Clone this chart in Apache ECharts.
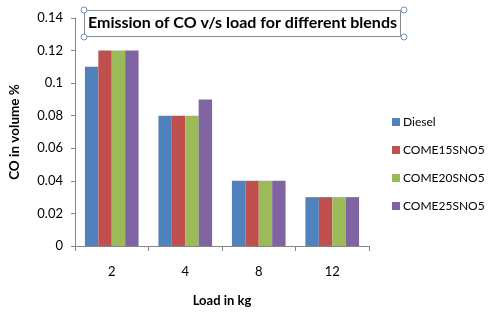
<!DOCTYPE html>
<html>
<head>
<meta charset="utf-8">
<script src="https://cdn.jsdelivr.net/npm/echarts@6/dist/echarts.min.js"></script>
<style>
  html, body { margin: 0; padding: 0; background: #fff; }
  #chart { width: 494px; height: 316px; }
</style>
</head>
<body>
<div id="chart"></div>
<script>
  const loads = ["2", "4", "8", "12"];
  const diesel = [0.11, 0.08, 0.04, 0.03];
  const come15 = [0.12, 0.08, 0.04, 0.03];
  const come20 = [0.12, 0.08, 0.04, 0.03];
  const come25 = [0.12, 0.09, 0.04, 0.03];

  const font = "Lato, 'Open Sans', sans-serif";
  const axisGray = "#868686";

  const chart = echarts.init(document.getElementById("chart"));

  function bar(name, data, color) {
    return {
      name: name,
      type: "bar",
      data: data,
      barGap: "0%",
      barCategoryGap: "27%",
      itemStyle: { color: color },
    };
  }

  // little handle circles on the title box corners
  const handles = [[84, 10], [404, 10], [84, 37], [404, 37]].map((p) => ({
    type: "circle",
    shape: { cx: p[0], cy: p[1], r: 3 },
    style: { fill: "#fff", stroke: "#6f93bd", lineWidth: 1 },
    z: 100,
  }));

  chart.setOption({
    animation: false,
    backgroundColor: "#fff",
    textStyle: { fontFamily: font },
    title: {
      text: "Emission of CO v/s load for different blends",
      left: 84,
      top: 10,
      padding: [5, 4, 6, 4],
      borderColor: "#8c8c8c",
      borderWidth: 1,
      textStyle: { fontFamily: font, fontSize: 16, lineHeight: 16, fontWeight: "bold", color: "#000" },
    },
    graphic: handles,
    legend: {
      orient: "vertical",
      left: 387,
      top: 111,
      itemWidth: 8,
      itemHeight: 8,
      itemGap: 16,
      icon: "rect",
      textStyle: { fontFamily: font, fontSize: 12, color: "#000", padding: [0, 0, 0, -2] },
      data: ["Diesel", "COME15SNO5", "COME20SNO5", "COME25SNO5"],
    },
    grid: { left: 69, top: 18, width: 300, height: 228, containLabel: false },
    xAxis: {
      type: "category",
      data: loads,
      name: "Load in kg",
      nameLocation: "middle",
      nameGap: 48,
      nameTextStyle: { fontFamily: font, fontSize: 13, fontWeight: "bold", color: "#000" },
      axisLine: { lineStyle: { color: axisGray } },
      axisTick: { show: true, length: 5, alignWithLabel: false, lineStyle: { color: axisGray } },
      axisLabel: { color: "#000", fontSize: 13, margin: 19 },
    },
    yAxis: {
      type: "value",
      min: 0,
      max: 0.14,
      interval: 0.02,
      name: "CO in volume %",
      nameLocation: "middle",
      nameGap: 53,
      nameTextStyle: { fontFamily: font, fontSize: 13.5, fontWeight: "bold", color: "#000" },
      axisLine: { show: true, lineStyle: { color: axisGray } },
      axisTick: { show: true, length: 4, lineStyle: { color: axisGray } },
      splitLine: { show: false },
      axisLabel: {
        color: "#000",
        fontSize: 13,
        margin: 12,
        formatter: (v) => String(parseFloat(v.toFixed(2))),
      },
    },
    series: [
      bar("Diesel", diesel, "#4f81bd"),
      bar("COME15SNO5", come15, "#c0504d"),
      bar("COME20SNO5", come20, "#9bbb59"),
      bar("COME25SNO5", come25, "#8064a2"),
    ],
  });
</script>
</body>
</html>
